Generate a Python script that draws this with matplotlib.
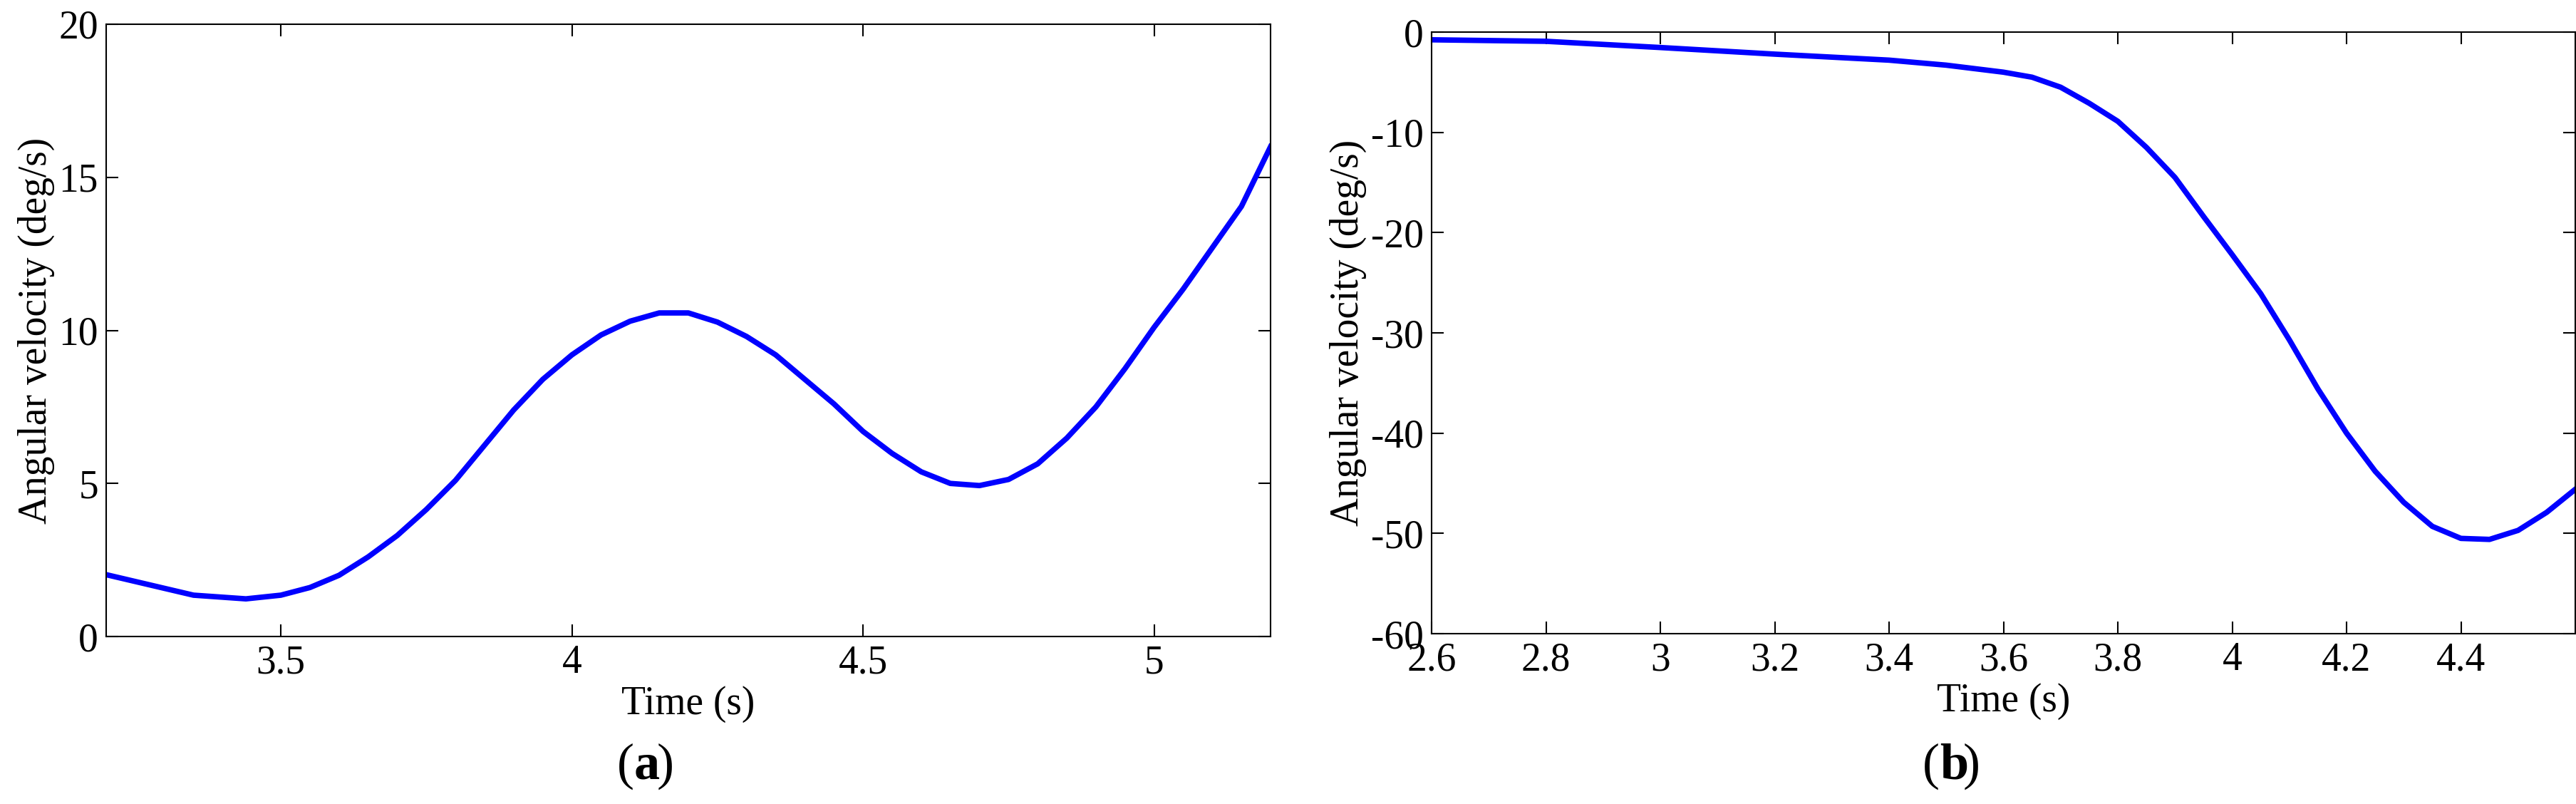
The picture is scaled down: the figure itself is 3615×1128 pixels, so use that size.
import matplotlib.pyplot as plt

plt.rcParams['font.family'] = ['Liberation Serif', 'DejaVu Serif']

# panel (a)
t_a = [3.2, 3.35, 3.44, 3.5, 3.55, 3.6, 3.65, 3.7, 3.75, 3.8, 3.85, 3.9, 3.95, 4.0, 4.05,
       4.1, 4.15, 4.2, 4.25, 4.3, 4.35, 4.4, 4.45, 4.5, 4.55, 4.6, 4.65, 4.7, 4.75, 4.8,
       4.85, 4.9, 4.95, 5.0, 5.05, 5.1, 5.15, 5.2]
w_a = [2.02, 1.35, 1.23, 1.35, 1.6, 2.0, 2.6, 3.3, 4.15, 5.1, 6.25, 7.4, 8.4, 9.2, 9.85,
       10.3, 10.57, 10.57, 10.27, 9.8, 9.2, 8.4, 7.6, 6.7, 5.98, 5.38, 5.0, 4.93, 5.13, 5.64,
       6.48, 7.5, 8.75, 10.1, 11.35, 12.7, 14.05, 16.0]

# panel (b)
t_b = [2.6, 2.8, 3.0, 3.2, 3.4, 3.5, 3.6, 3.65, 3.7, 3.75, 3.8, 3.85, 3.9, 3.95, 4.0,
       4.05, 4.1, 4.15, 4.2, 4.25, 4.3, 4.35, 4.4, 4.45, 4.5, 4.55, 4.6]
w_b = [-0.77, -0.92, -1.54, -2.2, -2.8, -3.3, -4.0, -4.5, -5.5, -7.1, -8.9, -11.5, -14.5,
       -18.4, -22.2, -26.1, -30.7, -35.6, -40.0, -43.8, -46.9, -49.3, -50.5, -50.6,
       -49.7, -47.9, -45.6]

fig = plt.figure(figsize=(36.16, 11.28), dpi=100)
ax1 = fig.add_axes([149/3616, 1 - 893/1128, (1783-149)/3616, (893-34)/1128])
ax2 = fig.add_axes([2009/3616, 1 - 889/1128, (3614-2009)/3616, (889-45)/1128])

FS = 40
for ax, t, w in [(ax1, t_a, w_a), (ax2, t_b, w_b)]:
    ax.plot(t, w, color='#0000ff', lw=5.5)
    ax.tick_params(direction='in', top=True, right=True, labelsize=FS, length=12, width=1.5, pad=8)
    ax.set_xlabel('Time (s)', fontsize=FS, labelpad=4)
    ax.set_ylabel('Angular velocity (deg/s)', fontsize=FS, labelpad=4)
    for s in ax.spines.values():
        s.set_linewidth(1.5)

ax1.set_xlim(3.2, 5.2)
ax1.set_ylim(0, 20)
ax1.set_xticks([3.5, 4, 4.5, 5])
ax1.set_xticklabels(['3.5', '4', '4.5', '5'])
ax1.set_yticks([0, 5, 10, 15, 20])

ax2.set_xlim(2.6, 4.6)
ax2.set_ylim(-60, 0)
ax2.set_xticks([2.6, 2.8, 3.0, 3.2, 3.4, 3.6, 3.8, 4.0, 4.2, 4.4])
ax2.set_xticklabels(['2.6', '2.8', '3', '3.2', '3.4', '3.6', '3.8', '4', '4.2', '4.4'])
ax2.set_yticks([-60, -50, -40, -30, -20, -10, 0])
ax2.set_yticklabels(['-60', '-50', '-40', '-30', '-20', '-10', '0'])

fig.text(890/3616, 1 - 1075/1128, '(', fontsize=52, ha='right', va='center')
fig.text(890/3616, 1 - 1075/1128, 'a', fontsize=52, fontweight='bold', ha='left', va='center')
fig.text(922/3616, 1 - 1075/1128, ')', fontsize=52, ha='left', va='center')
fig.text(2722/3616, 1 - 1075/1128, '(', fontsize=52, ha='right', va='center')
fig.text(2722/3616, 1 - 1075/1128, 'b', fontsize=52, fontweight='bold', ha='left', va='center')
fig.text(2755/3616, 1 - 1075/1128, ')', fontsize=52, ha='left', va='center')

fig.savefig('out.png', dpi=100)
